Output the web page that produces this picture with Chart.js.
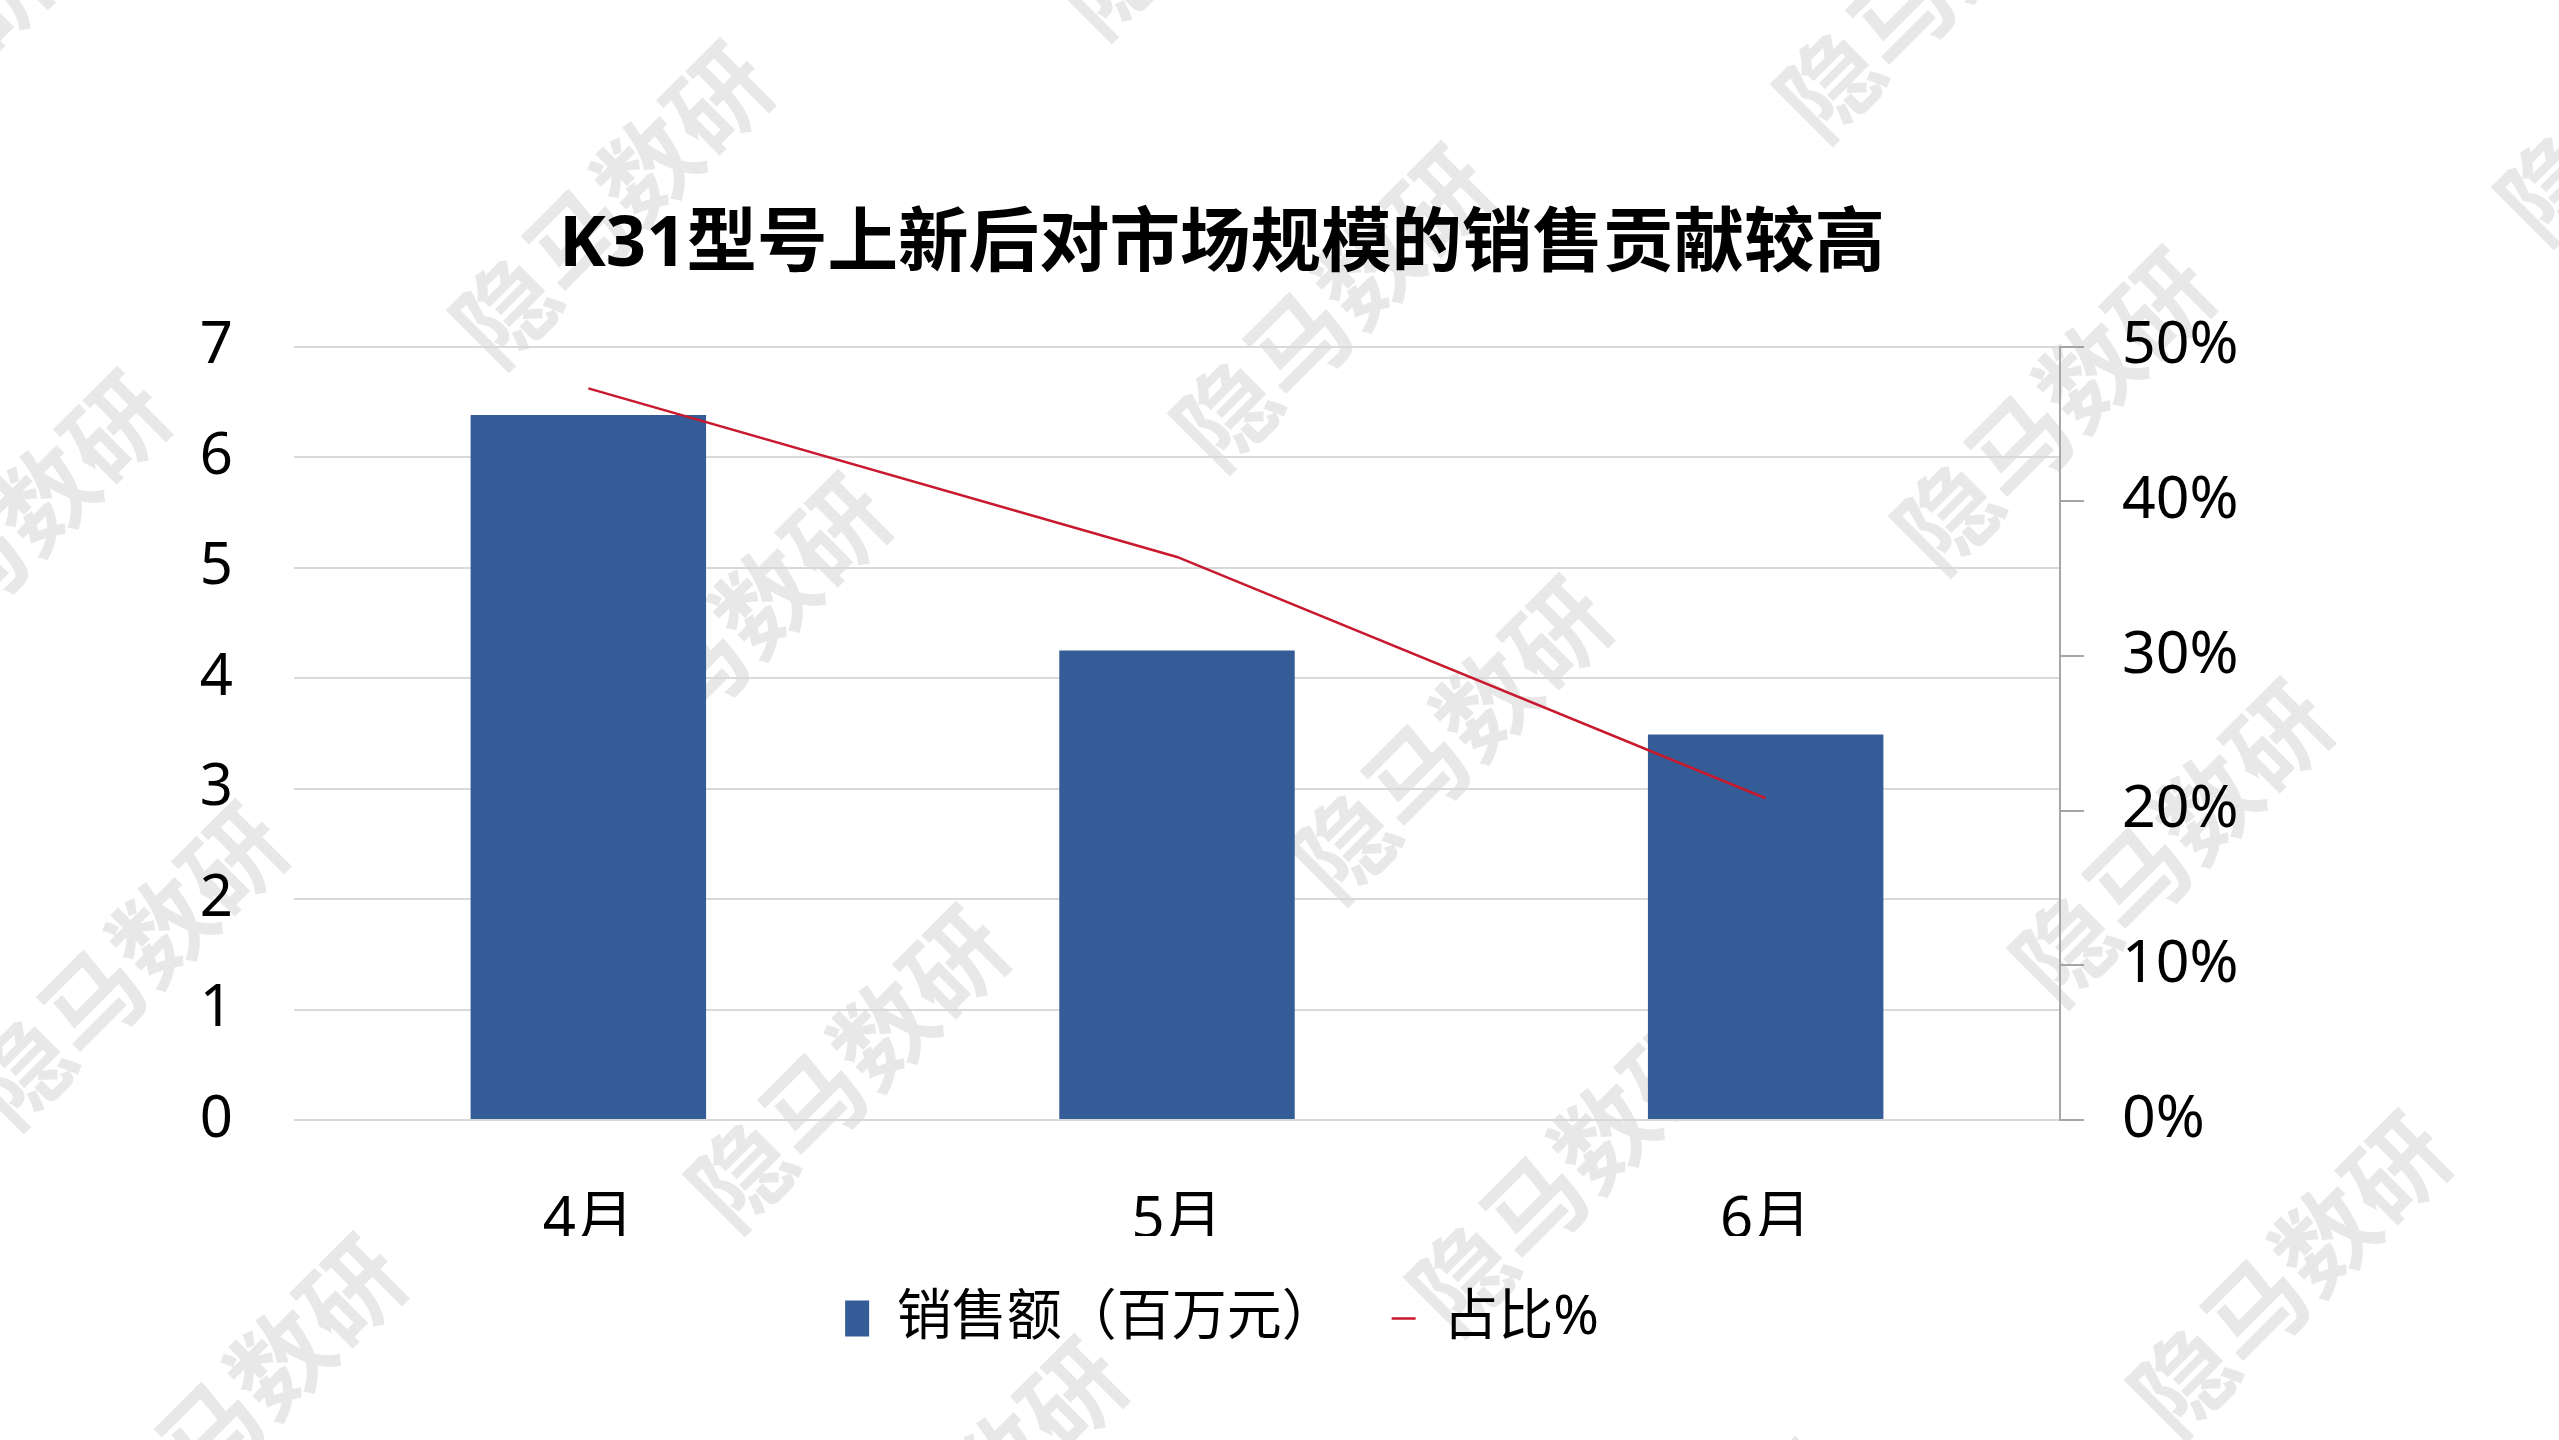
<!DOCTYPE html>
<html>
<head>
<meta charset="utf-8">
<script src="https://cdn.jsdelivr.net/npm/chart.js@4.4.1/dist/chart.umd.min.js"></script>
<style>
    html, body { margin: 0; padding: 0; background: #fff; }
    #wrap { width: 2559px; height: 1440px; }
</style>
</head>
<body>
<div id="wrap"><canvas id="chart-ventas" width="2559" height="1440"></canvas></div>
<script>
// datos
const meses = ['4月', '5月', '6月'];
const ventas = [6.38, 4.25, 3.49];          // 销售额（百万元）
const porcentaje = [0.473, 0.364, 0.208];   // 占比%
const titulo = 'K31型号上新后对市场规模的销售贡献较高';
const marcaAgua = '隐马数研';

const fuente = '"Noto Sans", "Noto Sans CJK SC", sans-serif';

// marca de agua de fondo
const marcaAguaPlugin = {
    id: 'marcaAgua',
    beforeDraw(chart) {
        const ctx = chart.ctx;
        ctx.save();
        ctx.fillStyle = '#fff';
        ctx.fillRect(0, 0, chart.width, chart.height);
        ctx.font = 'bold 100px "Noto Sans CJK SC", sans-serif';
        ctx.fillStyle = 'rgba(0,0,0,0.09)';
        ctx.textAlign = 'center';
        ctx.textBaseline = 'middle';
        const p0 = [612, 204], a = [721, 103], b = [118, 432];
        for (let i = -4; i <= 5; i++) {
            for (let j = -2; j <= 4; j++) {
                const x = p0[0] + i * a[0] + j * b[0];
                const y = p0[1] + i * a[1] + j * b[1];
                if (x < -300 || x > chart.width + 300 || y < -300 || y > chart.height + 300) continue;
                ctx.save();
                ctx.translate(x, y);
                ctx.rotate(-Math.PI / 4);
                ctx.fillText(marcaAgua, 0, 0);
                ctx.restore();
            }
        }
        ctx.restore();
    }
};

new Chart(document.getElementById('chart-ventas'), {
    data: {
        labels: meses,
        datasets: [{
            type: 'bar',
            label: '销售额（百万元）',
            data: ventas,
            backgroundColor: '#345D97',
            barPercentage: 0.4,
            categoryPercentage: 1.0,
            yAxisID: 'y',
            order: 1
        }, {
            type: 'line',
            label: '占比%',
            data: porcentaje,
            borderColor: '#C8192E',
            backgroundColor: '#C8192E',
            borderWidth: 2.5,
            pointRadius: 0,
            tension: 0,
            yAxisID: 'y1',
            order: 0
        }]
    },
    options: {
        responsive: false,
        animation: false,
        layout: {
            padding: { left: 0, right: 115, top: 0, bottom: 84 }
        },
        plugins: {
            title: {
                display: true,
                text: titulo,
                color: '#000',
                font: { family: fuente, size: 70.5, weight: 'bold', lineHeight: 1.2 },
                padding: { top: 204, bottom: 58 }
            },
            legend: {
                display: true,
                position: 'bottom',
                labels: {
                    color: '#000',
                    font: { family: fuente, size: 55 },
                    usePointStyle: true,
                    pointStyleWidth: 24,
                    boxHeight: 36,
                    padding: 55,
                    sort: (x, y) => x.datasetIndex - y.datasetIndex,
                    generateLabels(chart) {
                        const items = Chart.defaults.plugins.legend.labels.generateLabels(chart);
                        items.forEach(it => {
                            if (it.datasetIndex === 0) {
                                it.pointStyle = 'rect';
                                it.lineWidth = 0;
                            } else {
                                it.pointStyle = 'line';
                                it.lineWidth = 2.5;
                            }
                        });
                        return items;
                    }
                }
            },
            tooltip: { enabled: false }
        },
        scales: {
            x: {
                grid: { display: false },
                border: { display: false },
                ticks: {
                    color: '#000',
                    font: { family: fuente, size: 58 },
                    padding: 59
                },
                afterFit(scale) { scale.height = 116; }
            },
            y: {
                position: 'left',
                min: 0,
                max: 7,
                ticks: {
                    stepSize: 1,
                    color: '#000',
                    font: { family: fuente, size: 58 },
                    padding: 61
                },
                grid: { color: '#D9D9D9', lineWidth: 2, drawTicks: false },
                border: { display: false },
                afterFit(scale) { scale.width = 294; }
            },
            y1: {
                position: 'right',
                min: 0,
                max: 0.5,
                ticks: {
                    stepSize: 0.1,
                    color: '#000',
                    font: { family: fuente, size: 59 },
                    padding: 38,
                    callback: v => Math.round(v * 100) + '%'
                },
                grid: { drawOnChartArea: false, drawTicks: true, tickLength: 24, color: '#A6A6A6', lineWidth: 2 },
                border: { display: true, color: '#A6A6A6', width: 2 },
                afterFit(scale) { scale.width = 384; }
            }
        }
    },
    plugins: [marcaAguaPlugin]
});
</script>
</body>
</html>
